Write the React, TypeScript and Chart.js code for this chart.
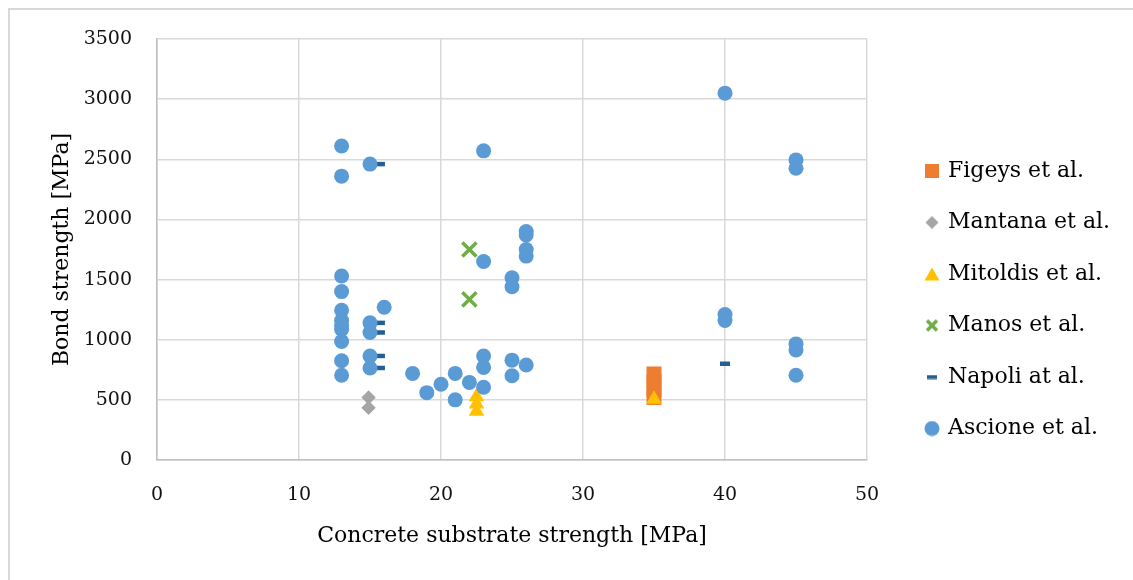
import React, { useEffect, useRef } from "react";
import { Chart, registerables } from "chart.js";

Chart.register(...registerables);

const FONT = "'DejaVu Serif', serif";

// Axis ranges / ticks
const xTickStep = 10;
const xMin = 0;
const xMax = 50;
const yTickStep = 500;
const yMin = 0;
const yMax = 3500;

const xTitle = "Concrete substrate strength [MPa]";
const yTitle = "Bond strength [MPa]";

const seriesNames = [
  "Figeys et al.",
  "Mantana et al.",
  "Mitoldis et al.",
  "Manos et al.",
  "Napoli at al.",
  "Ascione et al.",
];

// Figeys et al.
const figeysX = [35, 35, 35, 35];
const figeysY = [715, 650, 585, 520];

// Mantana et al.
const mantanaX = [14.9, 14.9];
const mantanaY = [520, 435];

// Mitoldis et al.
const mitoldisX = [22.5, 22.5, 22.5, 35];
const mitoldisY = [525, 465, 405, 505];

// Manos et al.
const manosX = [22, 22];
const manosY = [1750, 1335];

// Napoli at al.
const napoliX = [15.7, 15.7, 15.7, 15.7, 15.7, 40];
const napoliY = [2460, 1140, 1060, 865, 765, 800];

// Ascione et al.
const ascioneX = [
  13, 13, 13, 13, 13, 13, 13, 13, 13, 13, 13,
  15, 15, 15, 15, 15,
  16, 18, 19, 20, 21, 21, 22,
  23, 23, 23, 23, 23,
  25, 25, 25, 25,
  26, 26, 26, 26, 26,
  40, 40, 40,
  45, 45, 45, 45, 45,
];
const ascioneY = [
  2610, 2360, 1530, 1400, 1245, 1160, 1120, 1085, 985, 825, 705,
  2460, 1140, 1060, 865, 765,
  1270, 720, 560, 630, 720, 500, 645,
  2570, 1650, 865, 770, 605,
  1515, 1440, 830, 700,
  1900, 1870, 1750, 1695, 790,
  3050, 1210, 1160,
  2495, 2425, 965, 915, 705,
];

const colors = ["#ED7D31", "#A5A5A5", "#FFC000", "#70AD47", "#255E91", "#5B9BD5"];

function pts(xs: number[], ys: number[]) {
  return xs.map((x, i) => ({ x, y: ys[i] }));
}

function makeIcon(w: number, h: number, draw: (g: CanvasRenderingContext2D, w: number, h: number) => void) {
  const c = document.createElement("canvas");
  c.width = w;
  c.height = h;
  const g = c.getContext("2d")!;
  draw(g, w, h);
  return c;
}

export default function App() {
  const ref = useRef<HTMLCanvasElement>(null);

  useEffect(() => {
    const canvas = ref.current!;
    const W = 1123;

    const icons = [
      makeIcon(14, 14, (g) => {
        g.fillStyle = colors[0];
        g.fillRect(0, 0, 14, 14);
      }),
      makeIcon(14, 14, (g) => {
        g.fillStyle = colors[1];
        g.beginPath();
        g.moveTo(7, 0.5);
        g.lineTo(13.5, 7);
        g.lineTo(7, 13.5);
        g.lineTo(0.5, 7);
        g.closePath();
        g.fill();
      }),
      makeIcon(16, 14, (g) => {
        g.fillStyle = colors[2];
        g.beginPath();
        g.moveTo(8, 0.5);
        g.lineTo(15.5, 13.5);
        g.lineTo(0.5, 13.5);
        g.closePath();
        g.fill();
      }),
      makeIcon(14, 14, (g) => {
        g.strokeStyle = colors[3];
        g.lineWidth = 3.5;
        g.beginPath();
        g.moveTo(2, 2);
        g.lineTo(12, 12);
        g.moveTo(12, 2);
        g.lineTo(2, 12);
        g.stroke();
      }),
      makeIcon(10, 5, (g) => {
        g.fillStyle = colors[4];
        g.fillRect(0, 0.5, 10, 4);
      }),
      makeIcon(16, 16, (g) => {
        g.fillStyle = colors[5];
        g.beginPath();
        g.arc(8, 8, 7.5, 0, Math.PI * 2);
        g.fill();
      }),
    ];

    const legendFontSize = 22;
    const legendPadding = 29.5;
    const legendBox = 10;
    const ctx = canvas.getContext("2d")!;
    ctx.font = `${legendFontSize}px ${FONT}`;
    const maxText = Math.max(...seriesNames.map((s) => ctx.measureText(s).width));
    const legendWidth = legendPadding + legendBox + legendFontSize / 2 + maxText + 10;
    const legendLeft = 887.5;
    const padRight = Math.max(0, W - legendLeft - legendWidth);

    const plain = (v: any) => String(v);

    const chart = new Chart(canvas, {
      type: "scatter",
      data: {
        datasets: [
          {
            label: seriesNames[0],
            data: pts(figeysX, figeysY),
            pointStyle: "rect",
            pointRadius: 10.6,
            backgroundColor: colors[0],
            borderColor: colors[0],
            borderWidth: 0,
            order: 5,
          },
          {
            label: seriesNames[1],
            data: pts(mantanaX, mantanaY),
            pointStyle: "rectRot",
            pointRadius: 7.2,
            backgroundColor: colors[1],
            borderColor: colors[1],
            borderWidth: 0,
            order: 4,
          },
          {
            label: seriesNames[2],
            data: pts(mitoldisX, mitoldisY),
            pointStyle: "triangle",
            pointRadius: 9,
            backgroundColor: colors[2],
            borderColor: colors[2],
            borderWidth: 0,
            order: 3,
          },
          {
            label: seriesNames[3],
            data: pts(manosX, manosY),
            pointStyle: "crossRot",
            pointRadius: 10,
            backgroundColor: colors[3],
            borderColor: colors[3],
            borderWidth: 3.5,
            order: 2,
          },
          {
            label: seriesNames[4],
            data: pts(napoliX, napoliY),
            pointStyle: "line",
            pointRadius: 5,
            backgroundColor: colors[4],
            borderColor: colors[4],
            borderWidth: 4.5,
            order: 1,
          },
          {
            label: seriesNames[5],
            data: pts(ascioneX, ascioneY),
            pointStyle: "circle",
            pointRadius: 7.5,
            backgroundColor: colors[5],
            borderColor: colors[5],
            borderWidth: 0,
            order: 0,
          },
        ],
      },
      options: {
        responsive: false,
        animation: false,
        events: [],
        layout: { autoPadding: false, padding: { top: 29, bottom: 19.5, left: 0, right: padRight } },
        plugins: {
          tooltip: { enabled: false },
          legend: {
            position: "right",
            align: "center",
            maxWidth: 400,
            labels: {
              usePointStyle: true,
              boxWidth: legendBox,
              boxHeight: legendBox,
              padding: legendPadding,
              color: "#000",
              font: { size: legendFontSize, family: FONT },
              generateLabels: (c: any) => {
                const items = (Chart.defaults.plugins.legend.labels as any).generateLabels(c);
                items.sort((a: any, b: any) => a.datasetIndex - b.datasetIndex);
                items.forEach((it: any) => {
                  it.pointStyle = icons[it.datasetIndex];
                  it.rotation = 0;
                });
                return items;
              },
            },
          },
        },
        scales: {
          x: {
            type: "linear",
            min: xMin,
            max: xMax,
            ticks: { stepSize: xTickStep, padding: 2.6, color: "#111", font: { size: 19, family: FONT }, callback: plain },
            grid: { color: "#D9D9D9", lineWidth: 1.5, drawTicks: true, tickLength: 21, tickColor: "rgba(0,0,0,0)" },
            border: { color: "#BFBFBF", width: 1.5 },
            title: {
              display: true,
              text: xTitle,
              color: "#000",
              font: { size: 22, family: FONT },
              padding: { top: 0, bottom: 11.3 },
            },
            afterFit: (s: any) => {
              s.height = 100.5;
            },
          },
          y: {
            type: "linear",
            min: yMin,
            max: yMax,
            ticks: { stepSize: yTickStep, padding: 3, color: "#111", font: { size: 19, family: FONT }, callback: plain },
            grid: { color: "#D9D9D9", lineWidth: 1.5, drawTicks: true, tickLength: 22, tickColor: "rgba(0,0,0,0)" },
            border: { color: "#BFBFBF", width: 1.5 },
            title: {
              display: true,
              text: yTitle,
              color: "#000",
              font: { size: 22, family: FONT },
              padding: { top: 38.8, bottom: 0 },
            },
            afterFit: (s: any) => {
              s.width = 147;
            },
          },
          yR: {
            type: "linear",
            position: "right",
            display: true,
            ticks: { display: false },
            grid: { display: false },
            border: { display: false },
            afterFit: (s: any) => {
              s.width = 30.5;
            },
          },
        },
      },
    } as any);

    return () => chart.destroy();
  }, []);

  return (
    <div
      style={{
        position: "fixed",
        left: 8,
        top: 8,
        width: 1125,
        height: 572,
        borderLeft: "2px solid #D9D9D9",
        borderTop: "2px solid #D9D9D9",
        overflow: "hidden",
        background: "#fff",
        boxSizing: "border-box",
      }}
    >
      <canvas ref={ref} width={1123} height={570} style={{ display: "block" }} />
    </div>
  );
}
